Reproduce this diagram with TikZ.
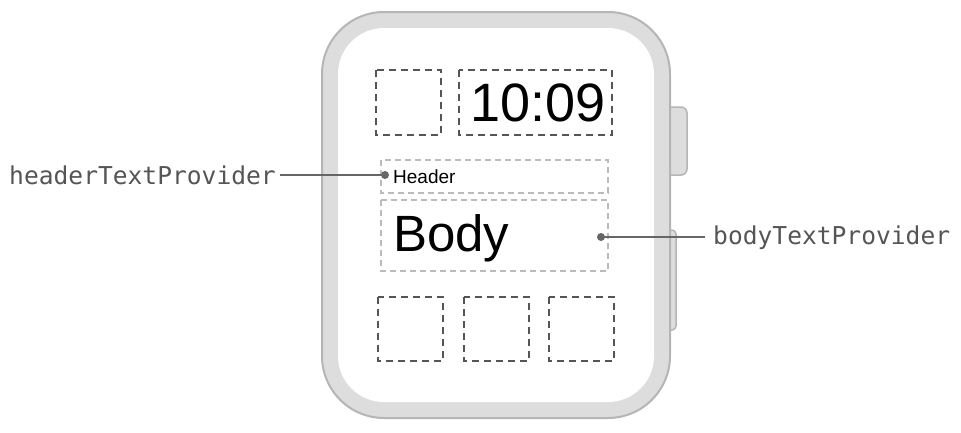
\documentclass[tikz,border=0pt]{standalone}
\usepackage{fontspec}
\setmainfont{Liberation Sans}
\newfontfamily\codefont{DejaVu Sans Mono}
\usetikzlibrary{positioning}
\definecolor{caseedge}{HTML}{B5B5B5}
\definecolor{casefill}{HTML}{DDDDDD}
\definecolor{slotdark}{HTML}{555555}
\definecolor{slotlight}{HTML}{BBBBBB}
\definecolor{leader}{HTML}{666666}
\begin{document}
\begin{tikzpicture}[x=1pt,y=-1pt,
slot/.style={draw=slotdark,line width=1.6pt,dash pattern=on 7pt off 5pt},
textslot/.style={draw=slotlight,line width=1.4pt,dash pattern=on 6pt off 4pt},
api/.style={font=\codefont\fontsize{24.6}{28}\selectfont,text=slotdark,inner sep=0pt},
leaderline/.style={draw=leader,line width=2.2pt},
dot/.style={circle,fill=leader,inner sep=0pt,minimum size=8pt}
]
\useasboundingbox (0,0) rectangle (961,432);

% case and buttons
\draw[caseedge,fill=casefill,line width=1.5pt,rounded corners=6pt] (664,107) rectangle (687,175);
\draw[caseedge,fill=casefill,line width=1.5pt,rounded corners=4pt] (664,230) rectangle (676,330);
\draw[caseedge,fill=casefill,line width=2pt,rounded corners=62pt] (322,12) rectangle (670,418);
\fill[white,rounded corners=46pt] (338,28) rectangle (654,402);

% complication slots
\draw[slot] (376,70) rectangle (441,135);
\draw[slot] (459,70) rectangle (612,135);
\node[inner sep=0pt,font=\fontsize{54}{60}\selectfont] (time) at (538,103) {10:09};
\draw[slot] (378,297) rectangle (443,361);
\draw[slot] (464,297) rectangle (529,361);
\draw[slot] (549,297) rectangle (614,361);

% header and body
\draw[textslot] (381,160) rectangle (608,193);
\draw[textslot] (381,200) rectangle (608,271);
\node[anchor=west,inner sep=0pt,font=\fontsize{19}{22}\selectfont] (header) at (393,177) {Header};
\node[anchor=west,inner sep=0pt,font=\fontsize{51}{56}\selectfont] (body) at (393,238) {Body};

% leaders
\node[dot] (hdot) at (385,175) {};
\node[dot] (bdot) at (601,237) {};
\node[api,anchor=east] (hlabel) at (276,175) {headerTextProvider};
\node[api,anchor=west] (blabel) at (713,238) {bodyTextProvider};
\draw[leaderline] (hlabel.east) ++(4,0) -- (hdot.center);
\draw[leaderline] (bdot.center) -- ++(104,0);
\end{tikzpicture}
\end{document}
